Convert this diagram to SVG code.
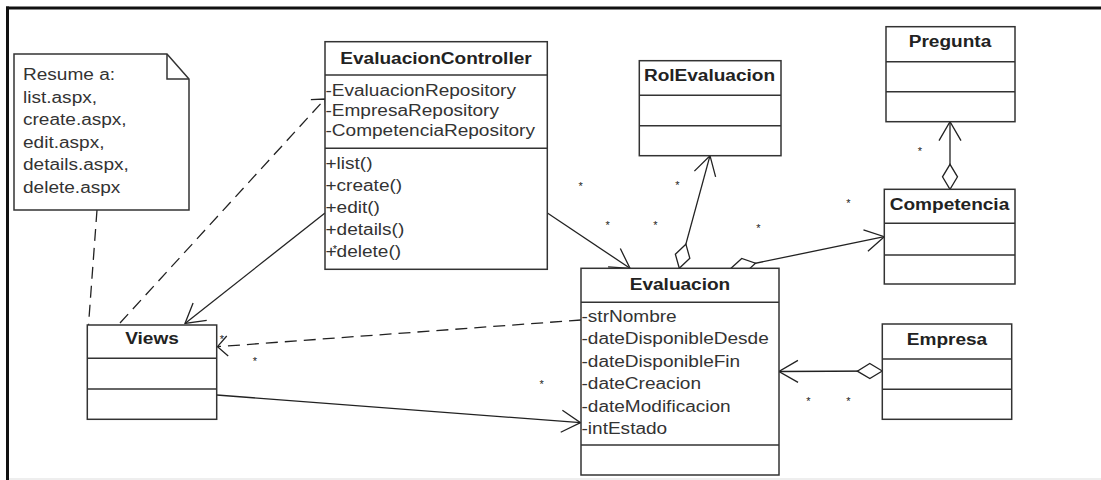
<svg xmlns="http://www.w3.org/2000/svg" width="1101" height="480" viewBox="0 0 1101 480">
  <style>
    .box { fill: #fff; stroke: #333; stroke-width: 1.5; }
    .sep { stroke: #333; stroke-width: 1.5; }
    .title { font-family: "Liberation Sans", Arial, sans-serif; font-size: 16px; font-weight: bold; fill: #222; text-anchor: middle; transform-box: fill-box; transform-origin: center; transform: scaleX(1.19); }
    .item { font-family: "Liberation Sans", Arial, sans-serif; font-size: 16px; fill: #333; transform-box: fill-box; transform-origin: left center; transform: scaleX(1.19); }
    .mult { font-family: "Liberation Sans", Arial, sans-serif; font-size: 11px; fill: #222; text-anchor: middle; }
    .assoc { fill: none; stroke: #222; stroke-width: 1.3; }
    .dep { fill: none; stroke: #222; stroke-width: 1.3; stroke-dasharray: 12 7; }
    .frame { stroke: #111; stroke-width: 3; }
  </style>
  <defs>
    <!-- open arrowhead for navigable associations -->
    <marker id="open" viewBox="0 0 24 28" refX="23" refY="14" markerWidth="24" markerHeight="28" orient="auto" markerUnits="userSpaceOnUse">
      <path d="M4,3 L23,14 L4,25" fill="none" stroke="#222" stroke-width="1.3" stroke-dasharray="none"/>
    </marker>
    <!-- shorter open arrowhead for dependencies -->
    <marker id="depArrow" viewBox="0 0 20 24" refX="16" refY="12" markerWidth="20" markerHeight="24" orient="auto" markerUnits="userSpaceOnUse">
      <path d="M6,2 L16,12 L6,22" fill="none" stroke="#222" stroke-width="1.3" stroke-dasharray="none"/>
    </marker>
    <!-- hollow diamond for aggregation ends -->
    <marker id="diamond" viewBox="0 0 28 18" refX="1" refY="9" markerWidth="28" markerHeight="18" orient="auto" markerUnits="userSpaceOnUse">
      <path d="M1,9 L13.5,1.5 L26,9 L13.5,16.5 Z" fill="#fff" stroke="#222" stroke-width="1.3" stroke-dasharray="none"/>
    </marker>
  </defs>

  <rect x="0" y="0" width="1101" height="480" fill="#fff"/>

  <!-- outer frame -->
  <g id="frame">
    <line class="frame" x1="6" y1="8" x2="1101" y2="8"/>
    <line class="frame" x1="7.5" y1="6.5" x2="7.5" y2="480"/>
    <line x1="9" y1="479" x2="1101" y2="479" stroke="#ddd" stroke-width="1"/>
  </g>

  <!-- connectors -->
  <g id="connectors">
    <path class="dep" d="M97,210 L88.5,325"/>
    <path class="dep" d="M120,323 L325,99" marker-end="url(#depArrow)"/>
    <path class="assoc" d="M325,213 L185,323.5" marker-end="url(#open)"/>
    <path class="assoc" d="M547,212.7 L630,268.3" marker-end="url(#open)"/>
    <path class="assoc" d="M216.7,395 L580.5,422.7" marker-end="url(#open)"/>
    <path class="dep" d="M581,320 L217.5,346.7" marker-end="url(#depArrow)"/>
    <path class="assoc" d="M679.3,268.3 L710,155.7" marker-start="url(#diamond)" marker-end="url(#open)"/>
    <path class="assoc" d="M731,268.3 L884.3,236.7" marker-start="url(#diamond)" marker-end="url(#open)"/>
    <path class="assoc" d="M950,189.3 L950,121.7" marker-start="url(#diamond)" marker-end="url(#open)"/>
    <path class="assoc" d="M882.3,371 L779,371.5" marker-start="url(#diamond)" marker-end="url(#open)"/>
  </g>

  <!-- note -->
  <g id="note">
    <path d="M14,54 L167,54 L189,79 L189,210 L14,210 Z" fill="#fff" stroke="#333" stroke-width="1.5"/>
    <path d="M167,54 L167,79 L189,79" fill="none" stroke="#333" stroke-width="1.5"/>
    <text class="item" x="23" y="80">Resume a:</text>
    <text class="item" x="23" y="102.6">list.aspx,</text>
    <text class="item" x="23" y="125.2">create.aspx,</text>
    <text class="item" x="23" y="147.8">edit.aspx,</text>
    <text class="item" x="23" y="170.4">details.aspx,</text>
    <text class="item" x="23" y="193">delete.aspx</text>
  </g>

  <!-- EvaluacionController -->
  <g id="evaluacion-controller">
    <rect class="box" x="325" y="41.7" width="222.3" height="227.6"/>
    <line class="sep" x1="325" y1="75" x2="547.3" y2="75"/>
    <line class="sep" x1="325" y1="148.3" x2="547.3" y2="148.3"/>
    <text class="title" x="436" y="64">EvaluacionController</text>
    <text class="item" x="325.5" y="96">-EvaluacionRepository</text>
    <text class="item" x="325.5" y="116">-EmpresaRepository</text>
    <text class="item" x="325.5" y="136">-CompetenciaRepository</text>
    <text class="item" x="325.5" y="169">+list()</text>
    <text class="item" x="325.5" y="191">+create()</text>
    <text class="item" x="325.5" y="213">+edit()</text>
    <text class="item" x="325.5" y="235">+details()</text>
    <text class="item" x="325.5" y="257">+delete()</text>
  </g>

  <!-- RolEvaluacion -->
  <g id="rol-evaluacion">
    <rect class="box" x="639.3" y="60.7" width="141.7" height="95"/>
    <line class="sep" x1="639.3" y1="95.3" x2="781" y2="95.3"/>
    <line class="sep" x1="639.3" y1="125.7" x2="781" y2="125.7"/>
    <text class="title" x="709.5" y="81.5">RolEvaluacion</text>
  </g>

  <!-- Pregunta -->
  <g id="pregunta">
    <rect class="box" x="886" y="26.7" width="129" height="95"/>
    <line class="sep" x1="886" y1="61.7" x2="1015" y2="61.7"/>
    <line class="sep" x1="886" y1="91.7" x2="1015" y2="91.7"/>
    <text class="title" x="950" y="47.5">Pregunta</text>
  </g>

  <!-- Competencia -->
  <g id="competencia">
    <rect class="box" x="884.3" y="189.3" width="130.7" height="94.7"/>
    <line class="sep" x1="884.3" y1="223.3" x2="1015" y2="223.3"/>
    <line class="sep" x1="884.3" y1="255" x2="1015" y2="255"/>
    <text class="title" x="949.5" y="210">Competencia</text>
  </g>

  <!-- Evaluacion -->
  <g id="evaluacion">
    <rect class="box" x="581" y="268.3" width="198" height="206.7"/>
    <line class="sep" x1="581" y1="302.3" x2="779" y2="302.3"/>
    <line class="sep" x1="581" y1="445" x2="779" y2="445"/>
    <text class="title" x="680" y="290">Evaluacion</text>
    <text class="item" x="581.5" y="322">-strNombre</text>
    <text class="item" x="581.5" y="344.5">-dateDisponibleDesde</text>
    <text class="item" x="581.5" y="367">-dateDisponibleFin</text>
    <text class="item" x="581.5" y="389.5">-dateCreacion</text>
    <text class="item" x="581.5" y="412">-dateModificacion</text>
    <text class="item" x="581.5" y="434.5">-intEstado</text>
  </g>

  <!-- Empresa -->
  <g id="empresa">
    <rect class="box" x="882.3" y="324" width="129.4" height="95.3"/>
    <line class="sep" x1="882.3" y1="359" x2="1011.7" y2="359"/>
    <line class="sep" x1="882.3" y1="389.3" x2="1011.7" y2="389.3"/>
    <text class="title" x="947" y="345">Empresa</text>
  </g>

  <!-- Views -->
  <g id="views">
    <rect class="box" x="87.3" y="325" width="129.4" height="94.3"/>
    <line class="sep" x1="87.3" y1="358.3" x2="216.7" y2="358.3"/>
    <line class="sep" x1="87.3" y1="389" x2="216.7" y2="389"/>
    <text class="title" x="152" y="344.5">Views</text>
  </g>

  <!-- multiplicities -->
  <g id="multiplicities">
    <text class="mult" x="580.7" y="189.5">*</text>
    <text class="mult" x="677.3" y="188.5">*</text>
    <text class="mult" x="607.7" y="228.5">*</text>
    <text class="mult" x="655.5" y="229">*</text>
    <text class="mult" x="758.3" y="231.5">*</text>
    <text class="mult" x="848.3" y="207">*</text>
    <text class="mult" x="920" y="154.5">*</text>
    <text class="mult" x="335" y="252.5">*</text>
    <text class="mult" x="222" y="343">*</text>
    <text class="mult" x="255" y="364.5">*</text>
    <text class="mult" x="541.7" y="387.5">*</text>
    <text class="mult" x="808.3" y="404.5">*</text>
    <text class="mult" x="848.3" y="404.5">*</text>
  </g>
</svg>
